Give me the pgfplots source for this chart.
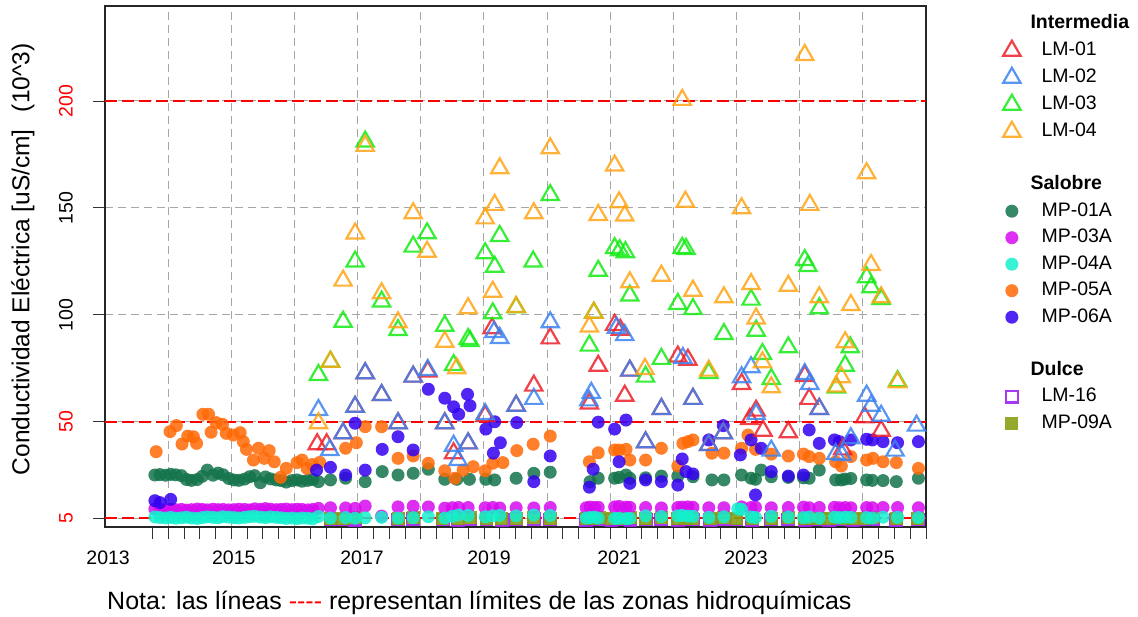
\documentclass[border=0pt]{standalone}
\usepackage{fontspec}
\setmainfont{Liberation Sans}
\usepackage{pgfplots}
\pgfplotsset{compat=1.18}
\definecolor{cLMa}{RGB}{238,30,40}
\definecolor{cLMb}{RGB}{60,130,240}
\definecolor{cLMc}{RGB}{20,235,20}
\definecolor{cLMd}{RGB}{255,165,20}
\definecolor{cMPa}{RGB}{20,115,75}
\definecolor{cMPc}{RGB}{215,10,240}
\definecolor{cMPd}{RGB}{20,240,205}
\definecolor{cMPe}{RGB}{255,105,5}
\definecolor{cMPf}{RGB}{50,0,240}
\definecolor{cLMp}{RGB}{160,32,240}
\definecolor{cMPi}{RGB}{135,160,20}
\pgfplotsset{
  tri/.style={only marks, color=#1, mark=triangle, mark size=10pt, mark options={line width=2.2pt, draw=#1, draw opacity=0.85, fill=none}},
  circ/.style={only marks, color=#1, mark=*, mark size=6.5pt, mark options={draw opacity=0, fill=#1, fill opacity=0.85}},
  osq/.style={only marks, color=#1, mark=square, mark size=5.8pt, mark options={line width=2.2pt, draw=#1, draw opacity=0.9, fill=none}},
  fsq/.style={only marks, color=#1, mark=square*, mark size=6.5pt, mark options={draw opacity=0, fill=#1, fill opacity=0.9}},
}
\begin{document}
\begin{tikzpicture}
\begin{axis}[
  name=ax,
  scale only axis, width=821pt, height=521pt,
  xmin=2013, xmax=2026, ymin=0.8, ymax=244.4,
  axis line style={line width=1.3pt, black!85},
  xtick={2014,2015,...,2025}, xticklabels={},
  minor xtick={2013.75,2014,...,2026},
  major tick length=12pt, minor tick length=12pt,
  tick align=outside, tick pos=left,
  tick style={black!80, line width=0.8pt},
  ytick={5,50,100,150,200},
  yticklabels={\textcolor{red}{5},\textcolor{red}{50},100,150,\textcolor{red}{200}},
  yticklabel style={xshift=-20pt, rotate=90, anchor=south, inner sep=0pt, font=\fontsize{19.5}{23}\selectfont},
  xmajorgrids, ymajorgrids,
  major grid style={gray!70, dash pattern=on 8pt off 5pt, line width=1pt},
  extra x ticks={2013.05,2015.04,2017.07,2019.08,2021.14,2023.15,2025.16},
  extra x tick labels={2013,2015,2017,2019,2021,2023,2025},
  extra x tick style={grid=none, major tick length=0pt, xticklabel style={anchor=base, inner sep=0pt, yshift=-38pt, font=\fontsize{19.5}{23}\selectfont}},
  ylabel={Conductividad Eléctrica [uS/cm]\hspace{0.7em}(10\textasciicircum 3)},
  ylabel style={at={(rel axis cs:-0.0999,0.514)}, anchor=center, font=\fontsize{24.5}{29}\selectfont},
  legend cell align=left,
  legend style={at={(rel axis cs:1,1)}, anchor=north west, xshift=74pt, yshift=-6pt, draw=none, fill=none,
    font=\fontsize{19.5}{23}\selectfont, row sep=7.5pt,
    nodes={inner sep=0pt, text height=14.5pt, text depth=4.5pt},
    /tikz/every odd column/.append style={column sep=21pt}},
]
\addlegendimage{empty legend}\addlegendentry{\hspace*{-11pt}\textbf{Intermedia}}
\addlegendimage{tri=cLMa}\addlegendentry{LM-01}
\addlegendimage{tri=cLMb}\addlegendentry{LM-02}
\addlegendimage{tri=cLMc}\addlegendentry{LM-03}
\addlegendimage{tri=cLMd}\addlegendentry{LM-04}
\addlegendimage{empty legend}\addlegendentry{}
\addlegendimage{empty legend}\addlegendentry{\hspace*{-11pt}\textbf{Salobre}}
\addlegendimage{circ=cMPa}\addlegendentry{MP-01A}
\addlegendimage{circ=cMPc}\addlegendentry{MP-03A}
\addlegendimage{circ=cMPd}\addlegendentry{MP-04A}
\addlegendimage{circ=cMPe}\addlegendentry{MP-05A}
\addlegendimage{circ=cMPf}\addlegendentry{MP-06A}
\addlegendimage{empty legend}\addlegendentry{}
\addlegendimage{empty legend}\addlegendentry{\hspace*{-11pt}\textbf{Dulce}}
\addlegendimage{osq=cLMp}\addlegendentry{LM-16}
\addlegendimage{fsq=cMPi}\addlegendentry{MP-09A}

% limit lines
\addplot[red, line width=1.6pt, dash pattern=on 12pt off 5pt, forget plot] coordinates {(2013,5) (2026,5)};
\addplot[red, line width=1.6pt, dash pattern=on 12pt off 5pt, forget plot] coordinates {(2013,50) (2026,50)};
\addplot[red, line width=1.6pt, dash pattern=on 12pt off 5pt, forget plot] coordinates {(2013,200) (2026,200)};

% LM-16
\addplot[osq=cLMp, forget plot] coordinates {
(2016.57,4.3)(2016.77,4.3)(2016.96,4.2)(2017.64,4.3)(2017.88,4.4)(2018.35,4.3)(2018.59,4.2)(2018.78,4.3)
(2019.04,4.3)(2019.28,4.2)(2019.51,4.3)(2019.79,4.4)(2020.05,4.3)(2020.62,4.2)(2020.72,4.3)(2020.83,4.3)
(2021.02,4.2)(2021.12,4.3)(2021.22,4.3)(2021.32,4.2)(2021.56,4.3)(2021.81,4.3)(2022.07,4.2)(2022.19,4.3)
(2022.31,4.3)(2022.58,4.2)(2022.80,4.3)(2023.00,4.3)(2023.25,4.2)(2023.55,4.3)(2023.82,4.3)(2024.08,4.2)
(2024.19,4.3)(2024.31,4.3)(2024.47,4.2)(2024.60,4.3)(2024.72,4.3)(2024.85,4.2)(2025.03,4.3)(2025.16,4.3)
(2025.53,4.2)(2025.87,4.3)};
% MP-09A
\addplot[fsq=cMPi, forget plot] coordinates {
(2016.57,5.0)(2016.77,4.8)(2016.96,5.1)(2017.64,5.0)(2017.88,5.2)(2018.35,4.9)(2018.59,5.0)(2018.78,5.1)
(2019.04,5.0)(2019.28,4.9)(2019.51,5.0)(2019.79,5.1)(2020.05,5.0)(2020.62,4.9)(2020.72,5.0)(2020.83,5.1)
(2021.02,5.0)(2021.12,4.9)(2021.22,5.0)(2021.32,5.1)(2021.56,5.0)(2021.81,5.1)(2022.07,5.0)(2022.19,4.9)
(2022.31,5.0)(2022.58,5.0)(2022.80,5.1)(2023.00,5.0)(2023.25,4.9)(2023.55,5.0)(2023.82,5.1)(2024.08,5.0)
(2024.19,4.9)(2024.31,5.0)(2024.47,5.0)(2024.60,5.1)(2024.72,5.0)(2024.85,4.9)(2025.03,5.0)(2025.16,5.1)
(2025.53,5.0)(2025.87,5.0)};
% MP-01A
\addplot[circ=cMPa, forget plot] coordinates {
(2013.79,25.1)(2013.87,25.3)(2013.96,25.0)(2014.04,25.4)(2014.12,25.2)(2014.21,24.8)(2014.29,23.0)(2014.37,22.6)
(2014.46,23.0)(2014.54,24.5)(2014.62,27.4)(2014.71,25.0)(2014.79,26.0)(2014.87,25.2)(2014.96,23.5)(2015.04,22.8)
(2015.12,22.6)(2015.21,23.2)(2015.29,24.3)(2015.37,24.8)(2015.46,21.5)(2015.54,24.2)(2015.62,23.3)(2015.71,22.8)
(2015.79,22.5)(2015.87,21.8)(2015.96,22.5)(2016.04,22.8)(2016.12,22.2)(2016.21,22.6)(2016.29,23.0)
(2016.38,22.0)(2016.57,22.8)(2016.81,23.6)(2017.12,22.0)(2017.39,26.7)(2017.64,25.1)(2017.88,25.9)(2018.12,27.8)
(2018.38,23.1)(2018.57,23.1)(2018.77,23.1)(2019.03,23.1)(2019.17,22.8)(2019.51,23.6)(2019.79,25.9)(2020.05,26.4)
(2020.68,22.0)(2020.81,23.6)(2021.07,23.6)(2021.14,24.0)(2021.25,25.1)(2021.31,23.6)(2021.56,23.8)(2021.81,24.6)
(2022.07,24.6)(2022.31,24.3)(2022.61,22.8)(2022.80,22.8)(2023.08,25.1)(2023.23,23.6)(2023.30,23.1)(2023.39,27.4)
(2023.55,24.3)(2023.82,24.0)(2024.06,23.8)(2024.15,23.6)(2024.31,27.4)(2024.57,22.8)(2024.66,22.8)(2024.72,23.2)
(2024.81,23.5)(2025.06,22.8)(2025.15,22.6)(2025.32,22.5)(2025.53,22.0)(2025.88,23.6)};
% MP-03A
\addplot[circ=cMPc, forget plot] coordinates {
(2013.79,9.2)(2013.87,9.0)(2013.96,8.8)(2014.04,9.1)(2014.12,8.9)(2014.21,9.0)(2014.29,8.7)(2014.37,8.9)
(2014.46,9.2)(2014.54,9.0)(2014.62,8.8)(2014.71,9.1)(2014.79,8.9)(2014.87,9.0)(2014.96,8.8)(2015.04,8.9)
(2015.12,9.1)(2015.21,9.0)(2015.29,8.8)(2015.37,9.3)(2015.46,9.0)(2015.54,9.4)(2015.62,9.1)(2015.71,8.9)
(2015.79,9.0)(2015.87,9.2)(2015.96,8.9)(2016.04,9.1)(2016.12,9.0)(2016.21,8.8)(2016.29,9.0)
(2016.38,9.5)(2016.57,9.8)(2016.81,9.7)(2016.96,9.5)(2017.12,10.6)(2017.38,5.9)(2017.64,10.2)(2017.88,10.5)
(2018.12,10.2)(2018.38,9.6)(2018.50,9.8)(2018.60,9.9)(2018.75,9.9)(2019.02,9.8)(2019.14,9.9)(2019.25,9.7)
(2019.51,9.8)(2019.79,9.7)(2020.05,9.9)(2020.62,9.8)(2020.68,10.1)(2020.75,9.9)(2020.81,10.0)(2021.07,10.2)
(2021.14,10.4)(2021.25,10.1)(2021.31,10.0)(2021.56,9.9)(2021.81,9.7)(2022.07,9.9)(2022.14,10.1)(2022.23,10.2)
(2022.31,10.0)(2022.56,9.8)(2022.80,9.8)(2023.08,10.2)(2023.23,9.9)(2023.30,10.0)(2023.55,9.8)(2023.82,9.9)
(2024.06,10.1)(2024.15,9.8)(2024.31,9.9)(2024.55,10.0)(2024.63,9.8)(2024.72,9.9)(2024.81,9.8)(2025.06,9.9)
(2025.15,9.8)(2025.32,9.9)(2025.55,9.9)(2025.88,9.8)};
% MP-04A
\addplot[circ=cMPd, forget plot] coordinates {
(2013.79,5.5)(2013.87,5.2)(2013.96,5.0)(2014.04,5.3)(2014.12,4.9)(2014.21,5.1)(2014.29,5.4)(2014.37,5.0)
(2014.46,4.8)(2014.54,5.2)(2014.62,5.5)(2014.71,5.3)(2014.79,5.1)(2014.87,5.6)(2014.96,5.4)(2015.04,5.2)
(2015.12,5.0)(2015.21,5.3)(2015.29,5.6)(2015.37,5.8)(2015.46,5.4)(2015.54,5.2)(2015.62,5.5)(2015.71,5.3)
(2015.79,5.1)(2015.87,4.8)(2015.96,5.0)(2016.04,4.7)(2016.12,5.0)(2016.21,4.9)(2016.29,4.6)
(2016.38,5.7)(2016.57,5.0)(2016.81,5.2)(2016.96,4.9)(2017.12,5.1)(2017.38,5.3)(2017.64,5.0)(2017.88,5.2)
(2018.12,5.6)(2018.38,5.0)(2018.50,5.8)(2018.60,6.4)(2018.75,6.2)(2019.02,5.6)(2019.14,6.0)(2019.25,6.2)
(2019.51,6.0)(2019.79,6.4)(2020.05,6.2)(2020.62,5.0)(2020.68,5.2)(2020.75,5.4)(2020.81,5.0)(2021.07,4.8)
(2021.14,4.9)(2021.25,4.7)(2021.31,4.9)(2021.56,6.0)(2021.81,5.7)(2022.07,6.0)(2022.14,6.2)(2022.23,5.9)
(2022.31,5.8)(2022.56,5.3)(2022.80,5.6)(2023.02,9.3)(2023.08,9.0)(2023.23,5.5)(2023.30,5.2)(2023.55,5.8)
(2023.82,5.5)(2024.06,5.2)(2024.15,5.4)(2024.31,5.0)(2024.55,5.4)(2024.63,5.2)(2024.72,5.4)(2024.81,5.3)
(2025.06,5.2)(2025.15,5.0)(2025.32,5.4)(2025.55,5.3)(2025.88,5.2)};
% MP-05A
\addplot[circ=cMPe, forget plot] coordinates {
(2013.81,36.0)(2014.03,45.4)(2014.13,48.2)(2014.22,39.6)(2014.31,43.3)(2014.40,43.0)(2014.45,39.9)(2014.55,53.5)
(2014.64,53.5)(2014.68,45.1)(2014.76,49.6)(2014.86,48.8)(2014.92,44.6)(2015.03,43.8)(2015.14,44.9)(2015.19,40.7)
(2015.24,37.1)(2015.35,32.1)(2015.43,37.6)(2015.52,32.9)(2015.60,36.5)(2015.68,31.3)(2015.78,24.0)(2015.87,28.2)
(2016.04,30.9)(2016.12,32.1)(2016.20,28.2)(2016.28,30.0)(2016.40,31.0)
(2016.81,37.6)(2016.98,40.2)(2017.12,47.7)(2017.38,47.7)(2017.64,32.9)(2017.88,34.0)(2018.12,30.6)(2018.38,27.1)
(2018.54,23.6)(2018.67,27.4)(2018.83,29.0)(2019.02,27.1)(2019.14,30.6)(2019.30,30.9)(2019.52,36.5)(2019.78,39.5)
(2020.05,43.3)(2020.67,31.3)(2020.81,35.5)(2021.07,36.8)(2021.14,36.8)(2021.25,37.1)(2021.31,32.1)(2021.56,32.1)
(2021.81,37.6)(2022.07,29.3)(2022.15,39.9)(2022.23,40.7)(2022.31,41.5)(2022.61,35.3)(2022.80,35.3)(2023.08,37.6)
(2023.18,43.8)(2023.30,37.1)(2023.55,34.9)(2023.82,34.0)(2024.06,34.9)(2024.15,33.7)(2024.31,32.9)(2024.57,31.3)
(2024.66,29.3)(2024.81,33.7)(2025.06,32.1)(2025.16,32.9)(2025.32,31.3)(2025.53,30.9)(2025.88,28.2)};
% MP-06A
\addplot[circ=cMPf, forget plot] coordinates {
(2013.79,13.1)(2013.87,12.2)(2014.04,13.7)
(2016.35,27.4)(2016.57,28.7)(2016.81,25.1)(2016.96,49.3)(2017.12,27.4)(2017.39,37.1)(2017.64,43.0)(2017.88,36.8)
(2018.12,65.2)(2018.38,61.0)(2018.52,57.0)(2018.60,53.5)(2018.74,62.8)(2018.78,57.5)(2019.03,46.6)(2019.15,35.3)
(2019.17,50.0)(2019.26,40.2)(2019.52,49.6)(2019.79,22.0)(2020.05,34.0)(2020.67,19.4)(2020.73,27.8)(2020.81,49.8)
(2021.07,46.6)(2021.14,31.3)(2021.25,50.8)(2021.31,21.2)(2021.56,22.8)(2021.81,22.0)(2022.07,20.4)(2022.14,32.6)
(2022.20,26.7)(2022.31,25.6)(2022.56,41.5)(2022.79,48.2)(2023.06,34.5)(2023.23,41.5)(2023.30,15.8)(2023.39,37.6)
(2023.55,26.7)(2023.82,24.6)(2024.06,25.1)(2024.15,46.2)(2024.31,39.9)(2024.55,41.5)(2024.63,40.7)(2024.81,41.5)
(2025.06,41.8)(2025.15,41.5)(2025.32,40.7)(2025.55,40.2)(2025.88,40.7)};
% LM-01
\addplot[tri=cLMa, forget plot] coordinates {
(2016.36,39.5)(2016.51,39.5)(2016.77,44.6)(2016.96,57.0)(2017.12,72.7)(2017.38,62.5)(2017.64,49.3)(2017.88,71.1)
(2018.11,73.5)(2018.38,49.3)(2018.52,35.3)(2018.75,39.9)(2019.02,52.7)(2019.13,93.7)(2019.51,57.5)(2019.79,66.9)
(2020.05,89.0)(2020.67,58.5)(2020.81,76.2)(2021.07,95.3)(2021.16,93.0)(2021.23,62.2)(2021.31,73.9)(2021.56,40.4)
(2021.81,56.0)(2022.07,80.5)(2022.23,79.0)(2022.31,60.7)(2022.56,39.1)(2022.79,44.6)(2023.08,67.7)(2023.21,51.3)
(2023.31,55.2)(2023.42,45.8)(2023.82,45.1)(2024.08,71.4)(2024.15,60.7)(2024.31,56.0)(2024.68,37.1)(2025.03,52.1)
(2025.29,45.8)};
% LM-02
\addplot[tri=cLMb, forget plot] coordinates {
(2016.38,55.5)(2016.56,36.8)(2016.77,44.6)(2016.96,57.0)(2017.12,72.7)(2017.38,62.5)(2017.64,49.3)(2017.88,71.1)
(2018.11,74.2)(2018.38,49.3)(2018.52,38.8)(2018.59,32.1)(2018.75,39.9)(2019.02,53.6)(2019.16,92.0)(2019.25,89.2)
(2019.51,57.5)(2019.79,60.7)(2020.05,96.5)(2020.66,60.0)(2020.70,63.5)(2021.10,94.0)(2021.23,90.5)(2021.31,73.9)
(2021.56,40.4)(2021.81,56.0)(2022.15,79.8)(2022.31,60.7)(2022.56,39.1)(2022.79,44.6)(2023.08,70.8)(2023.23,75.5)
(2023.31,53.6)(2023.55,36.5)(2024.08,72.3)(2024.16,67.7)(2024.31,56.0)(2024.57,34.9)(2024.67,34.5)(2024.81,42.3)
(2025.06,62.2)(2025.13,57.5)(2025.29,52.8)(2025.51,36.5)(2025.85,48.2)};
% LM-03
\addplot[tri=cLMc, forget plot] coordinates {
(2016.38,71.9)(2016.57,78.1)(2016.77,96.8)(2016.96,124.9)(2017.12,181.0)(2017.38,106.2)(2017.64,92.9)(2017.88,131.9)
(2018.10,138.1)(2018.38,94.9)(2018.52,76.5)(2018.75,88.7)(2018.78,87.7)(2019.02,128.8)(2019.14,100.7)(2019.17,122.5)
(2019.25,136.9)(2019.51,103.5)(2019.78,124.9)(2020.05,156.0)(2020.67,85.6)(2020.74,101.0)(2020.81,120.6)(2021.07,131.2)
(2021.15,130.2)(2021.24,129.3)(2021.31,109.0)(2021.56,71.1)(2021.81,79.4)(2022.07,105.1)(2022.14,131.3)(2022.20,130.8)
(2022.31,102.7)(2022.56,72.8)(2022.80,91.0)(2023.23,107.1)(2023.31,92.6)(2023.41,81.7)(2023.55,70.0)(2023.82,84.8)
(2024.08,125.6)(2024.13,122.8)(2024.31,103.1)(2024.58,66.0)(2024.72,76.2)(2024.80,84.8)(2025.06,117.6)(2025.13,112.9)
(2025.29,107.4)(2025.55,69.0)};
% LM-04
\addplot[tri=cLMd, forget plot] coordinates {
(2016.38,49.3)(2016.57,78.1)(2016.77,116.0)(2016.96,138.0)(2017.12,179.0)(2017.38,110.1)(2017.64,96.5)(2017.88,147.5)
(2018.10,129.5)(2018.38,87.4)(2018.57,75.0)(2018.75,103.1)(2019.02,145.1)(2019.14,110.8)(2019.17,151.4)(2019.25,168.5)
(2019.51,103.7)(2019.79,147.5)(2020.05,177.9)(2020.67,94.5)(2020.74,101.0)(2020.81,146.7)(2021.07,169.8)(2021.14,152.6)
(2021.23,146.4)(2021.31,115.2)(2021.55,74.7)(2021.81,118.3)(2022.14,200.5)(2022.19,152.9)(2022.31,111.3)(2022.56,73.9)
(2022.80,108.2)(2023.08,149.8)(2023.23,114.4)(2023.31,98.3)(2023.41,77.8)(2023.55,66.1)(2023.82,113.6)(2024.08,221.5)
(2024.16,151.4)(2024.31,108.2)(2024.58,66.5)(2024.66,70.8)(2024.72,87.2)(2024.81,104.6)(2025.06,166.2)(2025.13,123.3)
(2025.29,108.2)(2025.55,68.5)};
\end{axis}
\node[anchor=base west, inner sep=0pt, font=\fontsize{25}{30}\selectfont] at ([shift={(2pt,-83pt)}]ax.south west)
  {Nota: las líneas \textcolor{red}{-{}-{}-{}-} representan límites de las zonas hidroquímicas};
\pgfresetboundingbox
\path[use as bounding box] ([shift={(-105pt,-90pt)}]ax.south west) rectangle ([shift={(212pt,6pt)}]ax.north east);
\end{tikzpicture}
\end{document}
